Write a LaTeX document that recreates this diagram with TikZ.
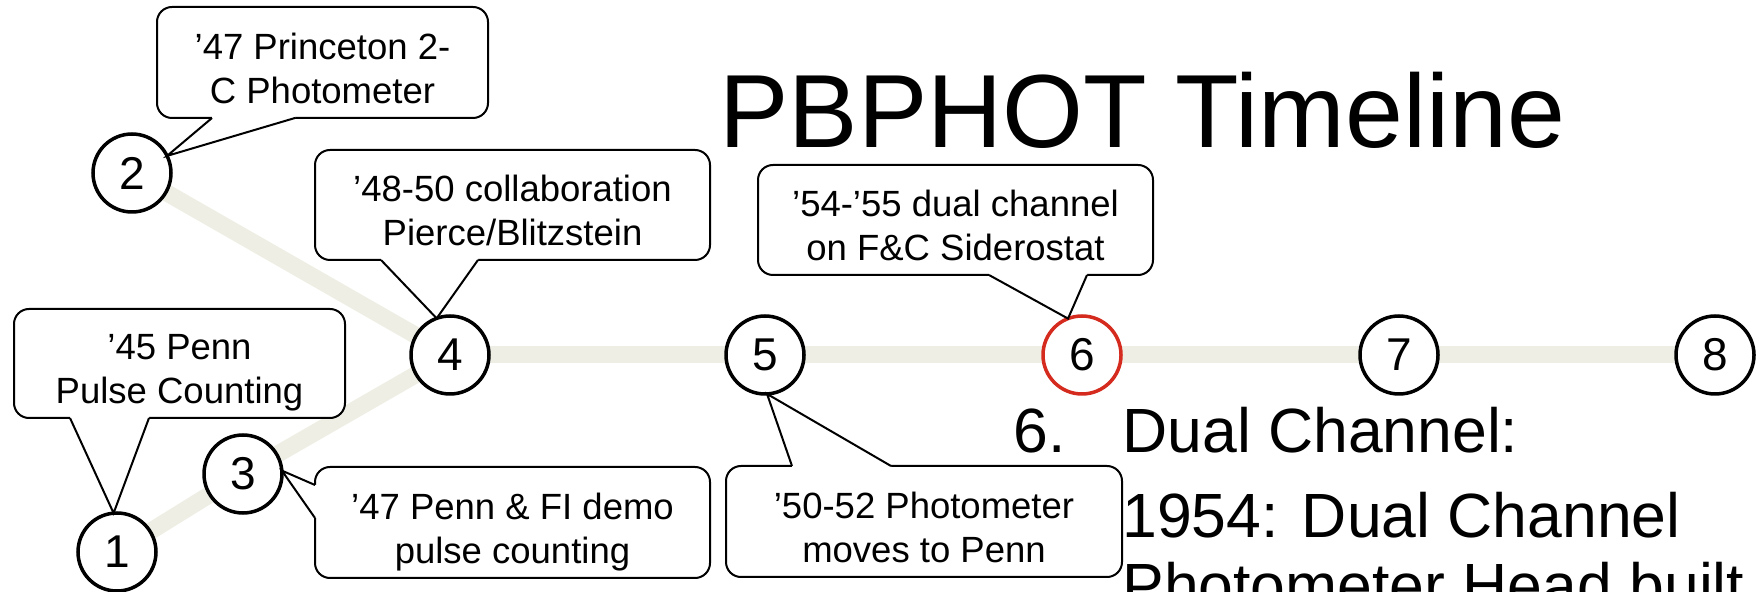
\documentclass[tikz,border=0pt]{standalone}
\usepackage{fontspec}
\setmainfont{Liberation Sans}
\usetikzlibrary{calc}
\definecolor{trackgray}{RGB}{238,238,229}
\definecolor{markred}{RGB}{213,43,30}
\pgfdeclarelayer{background}
\pgfsetlayers{background,main}
\begin{document}
\begin{tikzpicture}[x=0.5pt,y=-0.5pt,
  stop/.style={circle, draw=black, line width=1.75pt, fill=white, minimum size=39pt,
    inner sep=0pt, outer sep=0pt, font=\fontsize{23}{23}\selectfont},
  track/.style={draw=trackgray, line width=8.5pt},
  cbox/.style={draw=black, fill=white, line width=1pt, rounded corners=7.5pt,
    inner sep=0pt, outer sep=0pt},
  ctext/.style={align=center, font=\fontsize{18.25}{22}\selectfont, inner sep=0pt,
    text depth=0pt},
  tail/.style={draw=black, line width=1pt, line join=miter},
  cover/.style={fill=white},
  body/.style={anchor=base west, inner sep=0pt, font=\fontsize{31.25}{37}\selectfont}
]
\useasboundingbox (0,0) rectangle (1761,592);
\clip (0,0) rectangle (1761,592);

% timeline stops
\node[stop] (n1) at (117,552) {1};
\node[stop] (n2) at (132,173) {2};
\node[stop] (n3) at (243,474) {3};
\node[stop] (n4) at (450,355) {4};
\node[stop] (n5) at (765,355) {5};
\node[stop, draw=markred] (n6) at (1082,355) {6};
\node[stop] (n7) at (1399,355) {7};
\node[stop] (n8) at (1715,355) {8};

% track between the stops
\begin{pgfonlayer}{background}
  \draw[track] (n1) -- (n3);
  \draw[track] (n3) -- (n4);
  \draw[track] (n2) -- (n4);
  \draw[track] (n4) -- (n5);
  \draw[track] (n5) -- (n6);
  \draw[track] (n6) -- (n7);
  \draw[track] (n7) -- (n8);
\end{pgfonlayer}

% callout boxes
\node[cbox, minimum width=165.5pt, minimum height=55.5pt] (bA) at (322.5,62.5) {};
\node[cbox, minimum width=197.5pt, minimum height=55pt]   (bB) at (512.5,205) {};
\node[cbox, minimum width=165.5pt, minimum height=54.5pt] (bC) at (179.5,363.5) {};
\node[cbox, minimum width=197.5pt, minimum height=55.5pt] (bD) at (512.5,522.5) {};
\node[cbox, minimum width=198pt,   minimum height=55.5pt] (bE) at (924,521.5) {};
\node[cbox, minimum width=197.5pt, minimum height=55pt]   (bF) at (955.5,220) {};

% callout tails
\fill[cover] ($(bA.south west)+(55,-6)$) -- ($(bA.south west)+(55,0)$) -- (n2.26)
  -- ($(bA.south west)+(138,0)$) -- ($(bA.south west)+(138,-6)$) -- cycle;
\draw[tail] ($(bA.south west)+(55,0)$) -- (n2.26) -- ($(bA.south west)+(138,0)$);

\fill[cover] ($(bB.south west)+(66,-6)$) -- ($(bB.south west)+(66,0)$) -- (n4.110)
  -- ($(bB.south west)+(163,0)$) -- ($(bB.south west)+(163,-6)$) -- cycle;
\draw[tail] ($(bB.south west)+(66,0)$) -- (n4.110) -- ($(bB.south west)+(163,0)$);

\fill[cover] ($(bC.south west)+(56,-6)$) -- ($(bC.south west)+(56,0)$) -- (n1.95)
  -- ($(bC.south west)+(135,0)$) -- ($(bC.south west)+(135,-6)$) -- cycle;
\draw[tail] ($(bC.south west)+(56,0)$) -- (n1.95) -- ($(bC.south west)+(135,0)$);

\fill[cover] ($(bD.north west)+(6,18)$) -- ($(bD.north west)+(0,18)$) -- (n3.5)
  -- ($(bD.north west)+(0,51)$) -- ($(bD.north west)+(6,51)$) -- cycle;
\draw[tail] ($(bD.north west)+(0,18)$) -- (n3.5) -- ($(bD.north west)+(0,51)$);

\fill[cover] ($(bE.north west)+(66,6)$) -- ($(bE.north west)+(66,0)$) -- (n5.273)
  -- ($(bE.north west)+(165,0)$) -- ($(bE.north west)+(165,6)$) -- cycle;
\draw[tail] ($(bE.north west)+(66,0)$) -- (n5.273) -- ($(bE.north west)+(165,0)$);

\fill[cover] ($(bF.south west)+(231,-6)$) -- ($(bF.south west)+(231,0)$) -- (n6.111)
  -- ($(bF.south west)+(329,0)$) -- ($(bF.south west)+(329,-6)$) -- cycle;
\draw[tail] ($(bF.south west)+(231,0)$) -- (n6.111) -- ($(bF.south west)+(329,0)$);

% callout texts
\node[ctext] (tA) at ($(bA.center)+(0,5.5)$) {’47 Princeton 2-\\C Photometer};
\node[ctext] (tB) at ($(bB.center)+(0,5.5)$) {’48-50 collaboration\\Pierce/Blitzstein};
\node[ctext] (tC) at ($(bC.center)+(0,5.5)$) {’45 Penn\\Pulse Counting};
\node[ctext] (tD) at ($(bD.center)+(0,5.5)$) {’47 Penn \& FI demo\\pulse counting};
\node[ctext] (tE) at ($(bE.center)+(0,5.5)$) {’50-52 Photometer\\moves to Penn};
\node[ctext] (tF) at ($(bF.center)+(0,5.5)$) {’54-’55 dual channel\\on F\&C Siderostat};

% title and notes
\node[anchor=base west, inner sep=0pt, font=\fontsize{52}{60}\selectfont] (title) at (719,147.5) {PBPHOT Timeline};
\node[body] (num) at (1013,453) {6.};
\node[body] (head) at (1122,453) {Dual Channel:};
\node[body] (line1) at (1122,538) {1954: Dual Channel};
\node[body] (line2) at (1122,607) {Photometer Head built};
\end{tikzpicture}
\end{document}
